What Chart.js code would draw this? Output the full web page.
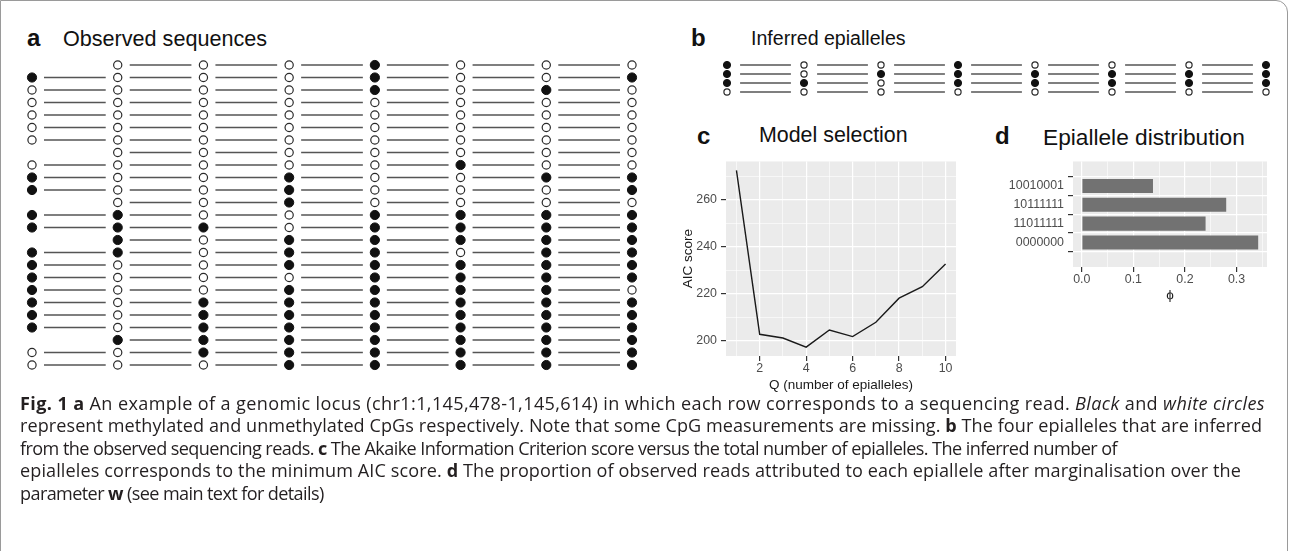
<!DOCTYPE html>
<html>
<head>
<meta charset="utf-8">
<script src="https://cdn.jsdelivr.net/npm/chart.js@4.4.0/dist/chart.umd.min.js"></script>
<style>
  body { margin: 0; width: 1290px; height: 551px; background: #fff; position: relative; overflow: hidden;
         font-family: "Liberation Sans", Arial, sans-serif; color: #111; }
  .frame { position: absolute; left: 0; top: 0; width: 1288px; height: 560px; box-sizing: border-box;
           border: 1px solid #9a9a9a; border-top-right-radius: 12px; }
  .box { position: absolute; }
  .lab { position: absolute; font-weight: bold; font-size: 24px; line-height: 24px; white-space: nowrap; }
  .ttl { position: absolute; line-height: 1; white-space: nowrap; }
  .caption { position: absolute; left: 20px; top: 389px; font-family: "Open Sans", "Noto Sans", sans-serif;
             font-size: 17px; line-height: 22.6px; white-space: nowrap; color: #231f20; }
  .caption div { width: max-content; }
</style>
</head>
<body>
<div class="frame"></div>

<div class="lab" style="left:27px; top:26px;">a</div>
<div class="ttl" style="left:63px; top:27.6px; font-size:21.6px;">Observed sequences</div>
<div class="lab" style="left:691px; top:26px;">b</div>
<div class="ttl" style="left:751px; top:29.4px; font-size:19.6px;">Inferred epialleles</div>
<div class="lab" style="left:697px; top:124px;">c</div>
<div class="ttl" style="left:759px; top:124.8px; font-size:21.4px;">Model selection</div>
<div class="lab" style="left:995px; top:124px;">d</div>
<div class="ttl" style="left:1043px; top:125.8px; font-size:22.7px;">Epiallele distribution</div>

<div class="box" style="left:22px; top:55px;"><canvas id="observed" width="620" height="320"></canvas></div>
<div class="box" style="left:717px; top:55px;"><canvas id="inferred" width="559" height="47"></canvas></div>
<div class="box" style="left:680px; top:150px;"><canvas id="aic" width="290" height="244"></canvas></div>
<div class="box" style="left:985px; top:150px;"><canvas id="phi" width="295" height="153"></canvas></div>

<div class="caption">
<div><b>Fig. 1 a</b> An example of a genomic locus (chr1:1,145,478-1,145,614) in which each row corresponds to a sequencing read. <i>Black</i> and <i>white circles</i></div>
<div>represent methylated and unmethylated CpGs respectively. Note that some CpG measurements are missing. <b>b</b> The four epialleles that are inferred</div>
<div>from the observed sequencing reads. <b>c</b> The Akaike Information Criterion score versus the total number of epialleles. The inferred number of</div>
<div>epialleles corresponds to the minimum AIC score. <b>d</b> The proportion of observed reads attributed to each epiallele after marginalisation over the</div>
<div>parameter <b>w</b> (see main text for details)</div>
</div>

<script>
// reads: 1 = methylated, 0 = unmethylated, - = missing
const observedReads = [
  '-0001000', '10001001', '00001010', '00000000', '00000000',
  '00000000', '00000000', '-0000000', '00000100', '10010011',
  '10010001', '-0010000', '11001111', '11101111', '-1011111',
  '11011011', '10011111', '10001111', '10011110', '10111111',
  '10111111', '10111111', '-1111111', '00111111', '00011111'
];
const inferredEpialleles = ['10010001', '10111111', '11011111', '00000000'];

const numEpialleles = [1, 2, 3, 4, 5, 6, 7, 8, 9, 10];
const aicScores = [272.7, 202.7, 201.1, 197.2, 204.5, 201.7, 207.8, 218.1, 223.0, 232.7];
const qTicks = [2, 4, 6, 8, 10];
const qMinorTicks = [1, 3, 5, 7, 9];
const aicTicks = [200, 220, 240, 260];
const aicMinorTicks = [210, 230, 250, 270];

const epialleleLabels = ['10010001', '10111111', '11011111', '0000000'];
const epialleleProportions = [0.138, 0.280, 0.240, 0.342];
const phiTicks = [0, 0.1, 0.2, 0.3];
const phiMinorTicks = [0.05, 0.15, 0.25, 0.35];

// right end of each caption line in the figure
const captionLineEnds = [1265, 1262, 1117, 1241, 315];

Chart.defaults.font.family = '"Liberation Sans", Arial, sans-serif';
Chart.defaults.color = '#4d4d4d';

const panelBackground = {
  id: 'panelBackground',
  beforeDraw(chart) {
    const { ctx, chartArea: a } = chart;
    ctx.save();
    ctx.fillStyle = '#ebebeb';
    ctx.fillRect(a.left, a.top, a.width, a.height);
    ctx.restore();
  }
};

// ggplot style 5% expansion
function expandRange(values, includeZero) {
  let lo = Math.min(...values), hi = Math.max(...values);
  if (includeZero) lo = Math.min(lo, 0);
  const pad = (hi - lo) * 0.05;
  return [lo - pad, hi + pad];
}

function sortedTicks(major, minor) {
  return major.concat(minor).sort((p, q) => p - q).map(v => ({ value: v }));
}

function lollipopChart(canvasId, reads, style) {
  const lines = [], filled = [], empty = [];
  reads.forEach((read, r) => {
    const row = r + 1;
    for (let c = 0; c < read.length; c++) {
      if (read[c] === '1') filled.push({ x: c, y: row });
      if (read[c] === '0') empty.push({ x: c, y: row });
      if (c < read.length - 1 && read[c] !== '-' && read[c + 1] !== '-') {
        lines.push({ x: c + style.gap, y: row }, { x: c + 1 - style.gap, y: row }, { x: c + 0.5, y: null });
      }
    }
  });

  return new Chart(document.getElementById(canvasId), {
    type: 'scatter',
    data: {
      datasets: [
        { data: filled, pointRadius: style.r, backgroundColor: '#111', borderColor: '#111', borderWidth: 1, clip: false, order: 1 },
        { data: empty, pointRadius: style.r - 0.5, backgroundColor: '#fff', borderColor: '#2a2a2a', borderWidth: 1.2, clip: false, order: 1 },
        { data: lines, showLine: true, spanGaps: false, borderColor: '#555', borderWidth: style.lineWidth, pointRadius: 0, clip: false, order: 2 }
      ]
    },
    options: {
      responsive: false,
      animation: false,
      devicePixelRatio: 1,
      layout: { padding: 10 },
      plugins: { legend: { display: false }, tooltip: { enabled: false } },
      scales: {
        x: { type: 'linear', display: false, min: 0, max: reads[0].length - 1 },
        y: { type: 'linear', display: false, min: 1, max: reads.length, reverse: true }
      }
    }
  });
}

lollipopChart('observed', observedReads, { gap: 0.14, r: 4.6, lineWidth: 1.5 });
lollipopChart('inferred', inferredEpialleles, { gap: 0.17, r: 3.6, lineWidth: 1.3 });

// c: model selection
const qRange = expandRange(numEpialleles);
const aicRange = expandRange(aicScores);

new Chart(document.getElementById('aic'), {
  type: 'line',
  data: {
    datasets: [{
      data: numEpialleles.map((q, i) => ({ x: q, y: aicScores[i] })),
      borderColor: '#1a1a1a',
      borderWidth: 1.4,
      pointRadius: 0,
      tension: 0
    }]
  },
  options: {
    responsive: false,
    animation: false,
    devicePixelRatio: 1,
    layout: { padding: { left: 0, top: 7, right: 14, bottom: 0 } },
    plugins: { legend: { display: false }, tooltip: { enabled: false } },
    scales: {
      x: {
        type: 'linear', min: qRange[0], max: qRange[1],
        afterBuildTicks: s => { s.ticks = sortedTicks(qTicks, qMinorTicks); },
        afterFit: s => { s.height = 38; },
        border: { display: false },
        grid: {
          color: '#fff',
          lineWidth: c => qTicks.includes(c.tick.value) ? 1.2 : 0.6,
          tickColor: c => qTicks.includes(c.tick.value) ? '#333' : 'rgba(0,0,0,0)',
          tickLength: 5
        },
        ticks: { autoSkip: false, maxRotation: 0, padding: 0, font: { size: 12.4 },
                 callback: v => qTicks.includes(v) ? String(v) : '' },
        title: { display: true, text: 'Q (number of epialleles)', color: '#1a1a1a', font: { size: 13.5 }, padding: { top: 0, bottom: 1 } }
      },
      y: {
        type: 'linear', min: aicRange[0], max: aicRange[1],
        afterBuildTicks: s => { s.ticks = sortedTicks(aicTicks, aicMinorTicks); },
        afterFit: s => { s.width = 46; },
        border: { display: false },
        grid: {
          color: '#fff',
          lineWidth: c => aicTicks.includes(c.tick.value) ? 1.2 : 0.6,
          tickColor: c => aicTicks.includes(c.tick.value) ? '#333' : 'rgba(0,0,0,0)',
          tickLength: 5
        },
        ticks: { autoSkip: false, padding: 4, font: { size: 12.4 },
                 callback: v => aicTicks.includes(v) ? String(v) : '' },
        title: { display: true, text: 'AIC score', color: '#1a1a1a', font: { size: 13.5 }, padding: { top: 0, bottom: 0 } }
      }
    }
  },
  plugins: [panelBackground]
});

// d: epiallele distribution
const phiRange = expandRange(epialleleProportions, true);

new Chart(document.getElementById('phi'), {
  type: 'bar',
  data: {
    datasets: [{
      data: epialleleProportions.map((v, i) => ({ x: v, y: i })),
      backgroundColor: '#727272',
      borderWidth: 0,
      barPercentage: 0.75,
      categoryPercentage: 1
    }]
  },
  options: {
    indexAxis: 'y',
    responsive: false,
    animation: false,
    devicePixelRatio: 1,
    layout: { padding: { left: 0, top: 10, right: 13, bottom: 0 } },
    plugins: { legend: { display: false }, tooltip: { enabled: false } },
    scales: {
      x: {
        type: 'linear', min: phiRange[0], max: phiRange[1],
        afterBuildTicks: s => { s.ticks = sortedTicks(phiTicks, phiMinorTicks); },
        afterFit: s => { s.height = 36; },
        border: { display: false },
        grid: {
          color: '#fff',
          lineWidth: c => phiTicks.includes(c.tick.value) ? 1.2 : 0.6,
          tickColor: c => phiTicks.includes(c.tick.value) ? '#333' : 'rgba(0,0,0,0)',
          tickLength: 5
        },
        ticks: { autoSkip: false, maxRotation: 0, padding: 0, font: { size: 12.4 },
                 callback: v => phiTicks.includes(v) ? v.toFixed(1) : '' },
        title: { display: true, text: 'ϕ', color: '#1a1a1a', font: { size: 13.5 }, padding: { top: 0, bottom: 0 } }
      },
      y: {
        type: 'linear', min: -0.6, max: epialleleLabels.length - 0.4, reverse: true,
        afterBuildTicks: s => { s.ticks = epialleleLabels.map((l, i) => ({ value: i })); },
        afterFit: s => { s.width = 88; },
        border: { display: false },
        grid: { color: '#fff', lineWidth: 1.2, tickColor: '#333', tickLength: 5 },
        ticks: { autoSkip: false, padding: 4, font: { size: 12.4 },
                 callback: v => epialleleLabels[v] }
      }
    }
  },
  plugins: [panelBackground]
});

// caption: one font size for all lines, then a little tracking per line so each ends where it does in the figure
function fitCaption(left, lineEnds, firstBaseline, lineGap) {
  const cap = document.querySelector('.caption');
  const lines = Array.from(cap.children);
  const widthOf = el => el.getBoundingClientRect().width;
  const wanted = lineEnds.slice(0, 4).reduce((s, r) => s + r - left, 0);
  let size = 17;
  for (let k = 0; k < 3; k++) {
    cap.style.fontSize = size + 'px';
    const got = lines.slice(0, 4).reduce((s, el) => s + widthOf(el), 0);
    size = size * wanted / got;
  }
  cap.style.fontSize = size + 'px';
  lines.forEach((el, i) => {
    const chars = el.textContent.replace(/\s+/g, ' ').trim().length;
    const extra = (lineEnds[i] - left - widthOf(el)) / chars;
    el.style.letterSpacing = Math.max(-0.6, Math.min(0.8, extra)) + 'px';
  });
  cap.style.lineHeight = lineGap + 'px';
  cap.style.top = (firstBaseline - ((lineGap - 1.362 * size) / 2 + 1.069 * size)) + 'px';
}
fitCaption(20, captionLineEnds, 410, 22.6);
</script>
</body>
</html>
